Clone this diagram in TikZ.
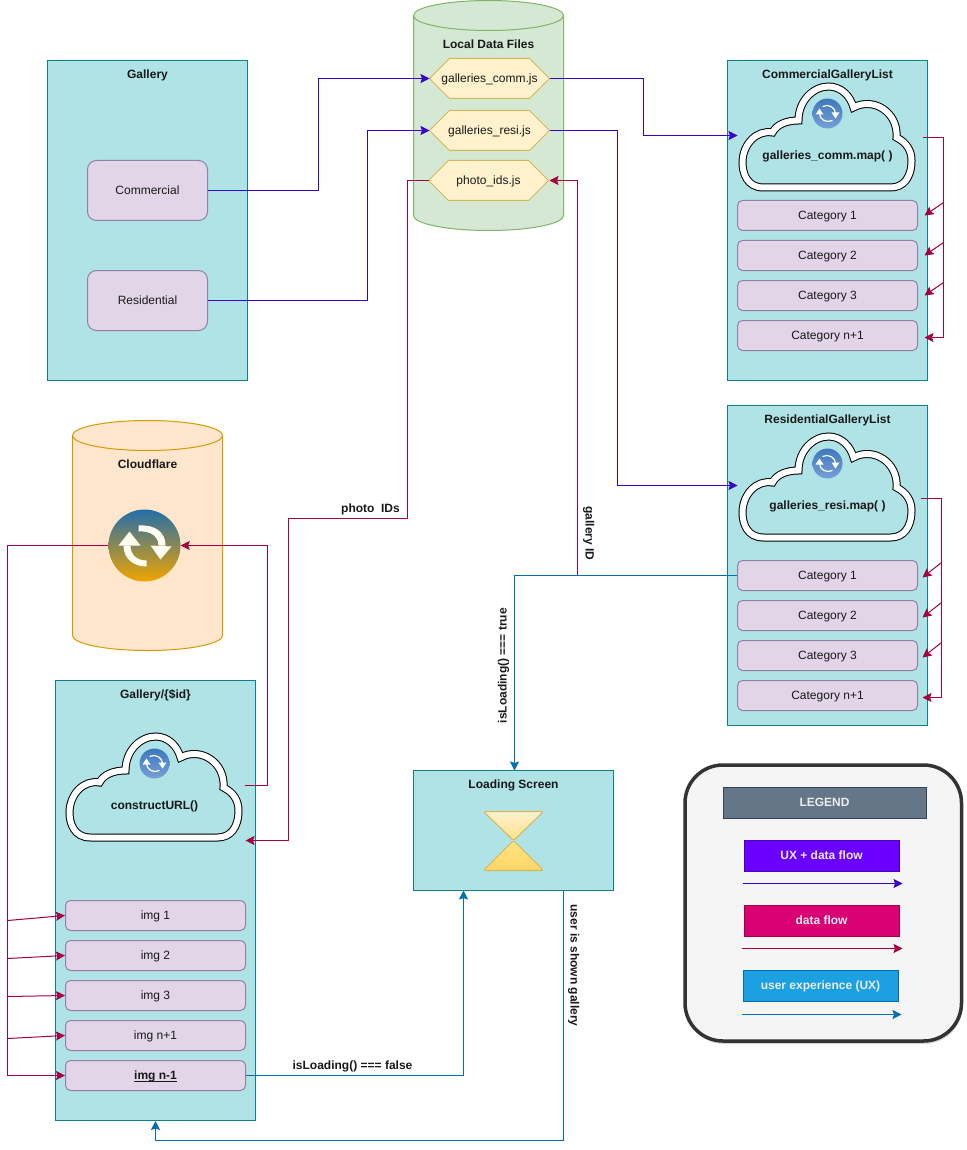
\documentclass[tikz,border=0pt]{standalone}
\usepackage{fontspec}
\setmainfont{Liberation Sans}
\usetikzlibrary{arrows.meta,shadows}

\definecolor{tealf}{RGB}{176,227,230}
\definecolor{teald}{RGB}{14,128,136}
\definecolor{lilf}{RGB}{225,213,231}
\definecolor{lild}{RGB}{146,128,170}
\definecolor{greef}{RGB}{213,232,212}
\definecolor{greed}{RGB}{130,179,102}
\definecolor{yelf}{RGB}{255,242,204}
\definecolor{yeld}{RGB}{214,182,86}
\definecolor{oraf}{RGB}{255,230,204}
\definecolor{orad}{RGB}{215,155,0}
\definecolor{uxdata}{RGB}{55,0,204}
\definecolor{dataf}{RGB}{165,0,64}
\definecolor{uxf}{RGB}{0,110,175}
\definecolor{leggrey}{RGB}{100,118,135}
\definecolor{leggreyd}{RGB}{49,67,84}
\definecolor{legvio}{RGB}{106,0,255}
\definecolor{legpink}{RGB}{216,0,115}
\definecolor{legblue}{RGB}{27,161,226}
\definecolor{glasa}{RGB}{255,224,140}
\definecolor{glasb}{RGB}{255,226,135}
\definecolor{glasc}{RGB}{255,214,102}
\definecolor{syncta}{RGB}{35,110,170}
\definecolor{synctb}{RGB}{240,165,0}
\definecolor{syncsa}{RGB}{60,120,190}
\definecolor{syncsb}{RGB}{120,160,215}

\tikzset{
    txt/.style={font=\fontsize{12}{14}\selectfont,text=black!90,inner sep=0pt,text height=10pt,text depth=2pt},
    bold/.style={txt,font=\fontsize{12}{14}\selectfont\bfseries},
    panel/.style={draw=teald,fill=tealf,line width=1pt,minimum width=200pt,inner sep=0pt},
    itembox/.style={txt,draw=lild,fill=lilf,line width=1pt,rounded corners=5pt,minimum width=180pt,minimum height=30pt},
    btnbox/.style={txt,draw=lild,fill=lilf,line width=1pt,rounded corners=9pt,minimum width=120pt,minimum height=60pt},
    hexfile/.style={draw=yeld,fill=yelf,line width=1pt},
    legbox/.style={font=\fontsize{12}{14}\selectfont\bfseries,text=white!92!black,inner sep=0pt,text height=10pt,text depth=3pt,line width=1pt,minimum height=31pt},
    syncbig/.style={circle,inner sep=0pt,minimum size=72pt,top color=syncta,bottom color=synctb},
    syncsmall/.style={circle,inner sep=0pt,minimum size=30pt,top color=syncsa,bottom color=syncsb},
    uxdataline/.style={draw=uxdata,line width=1pt,-{Stealth[length=9pt,width=9pt,inset=1.5pt]}},
    dataline/.style={draw=dataf,line width=1pt,-{Stealth[length=9pt,width=9pt,inset=1.5pt]}},
    uxline/.style={draw=uxf,line width=1pt,-{Stealth[length=9pt,width=9pt,inset=1.5pt]}},
    gcloud/.pic={
        \draw[black,fill=tealf,line width=1pt,double=white,double distance=6pt]
            (25,105) .. controls (8,105) and (4,90) .. (4,80)
            .. controls (4,62) and (18,47) .. (34,50)
            .. controls (38,42) and (48,38) .. (60,38)
            .. controls (60,18) and (75,4) .. (90,4)
            .. controls (103,4) and (112,14) .. (115,25)
            .. controls (135,14) and (160,30) .. (158,55)
            .. controls (168,60) and (173,68) .. (173,78)
            .. controls (173,95) and (165,105) .. (152,105) -- cycle;
    },
    syncglyph/.pic={
        \fill[white!95!yellow] (-21,0) .. controls (-21,14) and (-10,21) .. (2,21) -- (2,15)
            .. controls (-8,15) and (-14,9) .. (-14,0) -- cycle;
        \fill[white!95!yellow] (-26,0) -- (-15,-14) -- (-4,0) -- cycle;
        \fill[white!95!yellow] (21,0) .. controls (21,-14) and (10,-21) .. (-6,-20) -- (-6,-14)
            .. controls (6,-15) and (14,-9) .. (14,0) -- cycle;
        \fill[white!95!yellow] (6,0) -- (27,1) -- (16,14) -- cycle;
    },
    syncthin/.pic={
        \draw[white,line width=1.2pt] (-8,0) .. controls (-8,6) and (-1,10) .. (5,7);
        \draw[white,line width=1.2pt] (8,0) .. controls (8,-6) and (1,-10) .. (-5,-7);
        \fill[white] (-12,1) -- (-8,-5) -- (-4,1) -- cycle;
        \fill[white] (12,-1) -- (8,5) -- (4,-1) -- cycle;
    },
}

\begin{document}
\begin{tikzpicture}[x=1pt,y=-1pt]
    \path[use as bounding box,fill=white] (-0.5,-0.5) rectangle (965.5,1149.5);
    %
    % cylinders
    \draw[draw=greed,fill=greef,line width=1pt] (413,15) -- (413,215)
        arc[start angle=180,end angle=0,x radius=75,y radius=15] -- (563,15);
    \draw[draw=greed,fill=greef,line width=1pt] (488,15) ellipse[x radius=75,y radius=15];
    \draw[draw=orad,fill=oraf,line width=1pt] (72,435) -- (72,635)
        arc[start angle=180,end angle=0,x radius=75,y radius=15] -- (222,435);
    \draw[draw=orad,fill=oraf,line width=1pt] (147,435) ellipse[x radius=75,y radius=15];
    \node[bold] (localtitle) at (488,44) {Local Data Files};
    \node[bold] (cloudflare) at (147,464) {Cloudflare};
    %
    % panels
    \node[panel,minimum height=320pt] (gallery) at (147,220) {};
    \node[panel,minimum height=320pt] (commlist) at (827,220) {};
    \node[panel,minimum height=320pt] (resilist) at (827,565) {};
    \node[panel,minimum height=440pt] (galleryid) at (155,900) {};
    \node[panel,minimum height=120pt] (loading) at (513,830) {};
    \node[bold] (gallerytitle) at (147,74) {Gallery};
    \node[bold] (commtitle) at (827,74) {CommercialGalleryList};
    \node[bold] (resititle) at (827,419) {ResidentialGalleryList};
    \node[bold] (galleryidtitle) at (155,694) {Gallery/\{\$id\}};
    \node[bold] (loadingtitle) at (513,784) {Loading Screen};
    %
    % gallery buttons
    \node[btnbox] (commercial) at (147,190) {Commercial};
    \node[btnbox] (residential) at (147,300) {Residential};
    %
    % data files
    \draw[hexfile] (429,78) -- (449,58) -- (529,58) -- (549,78) -- (529,98) -- (449,98) -- cycle;
    \draw[hexfile] (429,130) -- (449,110) -- (529,110) -- (549,130) -- (529,150) -- (449,150) -- cycle;
    \draw[hexfile] (428,180) -- (448,160) -- (528,160) -- (548,180) -- (528,200) -- (448,200) -- cycle;
    \node[txt] (commjs) at (489,78) {galleries\_comm.js};
    \node[txt] (resijs) at (489,130) {galleries\_resi.js};
    \node[txt] (photojs) at (488,180) {photo\_ids.js};
    \coordinate (commjsW) at (429,78);
    \coordinate (commjsE) at (549,78);
    \coordinate (resijsW) at (429,130);
    \coordinate (resijsE) at (549,130);
    \coordinate (photojsW) at (428,180);
    \coordinate (photojsE) at (549,180);
    %
    % clouds
    \pic at (738,82) {gcloud};
    \pic at (738,432) {gcloud};
    \pic at (65,732) {gcloud};
    \node[bold] (commmap) at (827,155) {galleries\_comm.map( )};
    \node[bold] (resimap) at (827,505) {galleries\_resi.map( )};
    \node[bold] (constructurl) at (154,805) {constructURL()};
    %
    % sync icons
    \node[syncbig] (syncflare) at (144,545) {};
    \pic at (144,545) {syncglyph};
    \node[syncsmall] (synccomm) at (827,113) {};
    \pic at (827,113) {syncthin};
    \node[syncsmall] (syncresi) at (827,463) {};
    \pic at (827,463) {syncthin};
    \node[syncsmall] (syncid) at (154,763) {};
    \pic at (154,763) {syncthin};
    %
    % list items
    \node[itembox] (comm1) at (827,215) {Category 1};
    \node[itembox] (comm2) at (827,255) {Category 2};
    \node[itembox] (comm3) at (827,295) {Category 3};
    \node[itembox] (comm4) at (827,335) {Category n+1};
    \node[itembox] (resi1) at (827,575) {Category 1};
    \node[itembox] (resi2) at (827,615) {Category 2};
    \node[itembox] (resi3) at (827,655) {Category 3};
    \node[itembox] (resi4) at (827,695) {Category n+1};
    \node[itembox] (img1) at (155,915) {img 1};
    \node[itembox] (img2) at (155,955) {img 2};
    \node[itembox] (img3) at (155,995) {img 3};
    \node[itembox] (img4) at (155,1035) {img n+1};
    \node[itembox] (img5) at (155,1075) {\textbf{\underline{\smash{img n-1}}}};
    %
    % hourglass
    \shade[draw=yeld,line width=1pt,rounded corners=2pt,top color=yelf,bottom color=glasa]
        (483,811) -- (543,811) -- (513,840) -- cycle;
    \shade[draw=yeld,line width=1pt,rounded corners=2pt,top color=glasb,bottom color=glasc]
        (513,840) -- (543,870) -- (483,870) -- cycle;
    %
    % ux + data flow
    \coordinate (commcloudW) at (737,135);
    \coordinate (resicloudW) at (737,485);
    \draw[uxdataline] (commercial.east) -- (318,190) -- (318,78) -- (commjsW);
    \draw[uxdataline] (residential.east) -- (367,300) -- (367,130) -- (resijsW);
    \draw[uxdataline] (commjsE) -- (643,78) -- (643,135) -- (commcloudW);
    \draw[uxdataline] (resijsE) -- (617,130) -- (617,485) -- (resicloudW);
    %
    % data flow, commercial list
    \coordinate (commout) at (922,137);
    \coordinate (commT1) at (924,215);
    \coordinate (commT2) at (924,255);
    \coordinate (commT3) at (924,295);
    \coordinate (commT4) at (924,337);
    \draw[dataline] (commout) -- (943,137) -- (943,337) -- (commT4);
    \draw[dataline] (943,202) -- (commT1);
    \draw[dataline] (943,242) -- (commT2);
    \draw[dataline] (943,282) -- (commT3);
    %
    % data flow, residential list
    \coordinate (resiout) at (920,498);
    \coordinate (resiT1) at (922,577);
    \coordinate (resiT2) at (922,617);
    \coordinate (resiT3) at (922,657);
    \coordinate (resiT4) at (922,697);
    \draw[dataline] (resiout) -- (941,498) -- (941,697) -- (resiT4);
    \draw[dataline] (941,562) -- (resiT1);
    \draw[dataline] (941,602) -- (resiT2);
    \draw[dataline] (941,642) -- (resiT3);
    %
    % data flow, photos
    \coordinate (idcloudE) at (245,840);
    \coordinate (idout) at (244,785);
    \draw[dataline] (photojsW) -- (407,180) -- (407,518) -- (288,518) -- (288,840) -- (idcloudE);
    \draw[dataline] (idout) -- (267,785) -- (267,545) -- (syncflare.east);
    \draw[dataline] (syncflare.west) -- (7,545) -- (7,1075) -- (img5.west);
    \draw[dataline] (7,920) -- (img1.west);
    \draw[dataline] (7,958) -- (img2.west);
    \draw[dataline] (7,996) -- (img3.west);
    \draw[dataline] (7,1038) -- (img4.west);
    \draw[dataline] (577,575) -- (577,180) -- (photojsE);
    %
    % user experience
    \draw[uxline] (resi1.west) -- (514,575) -- (514,770);
    \draw[uxline] (img5.east) -- (463,1075) -- (463,890);
    \draw[uxline] (563,890) -- (563,1140) -- (155,1140) -- (galleryid.south);
    %
    % flow labels
    \node[bold] (photolabel) at (370,508) {photo\ \ IDs};
    \node[bold,rotate=-90] (idlabel) at (589,533) {gallery ID};
    \node[bold,rotate=90] (truelabel) at (502,665) {isLoading() === true};
    \node[bold] (falselabel) at (352,1065) {isLoading() === false};
    \node[bold,rotate=-90] (shownlabel) at (574,965) {user is shown gallery};
    %
    % legend
    \draw[draw=black!80,fill=black!4,line width=3.5pt,rounded corners=38pt,
        drop shadow={shadow xshift=1pt,shadow yshift=-3pt,opacity=0.3}] (684.5,764.5) rectangle (961,1040.5);
    \node[legbox,draw=leggreyd,fill=leggrey,minimum width=203pt] (legtitle) at (824,802.5) {LEGEND};
    \node[legbox,draw=legvio!70!black,fill=legvio,minimum width=155pt] (legboth) at (821,855.5) {UX + data flow};
    \node[legbox,draw=dataf,fill=legpink,minimum width=155pt] (legdata) at (821,920.5) {data flow};
    \node[legbox,draw=uxf,fill=legblue,minimum width=155pt] (legux) at (820,985.5) {user experience (UX)};
    \coordinate (A1) at (742,883);
    \coordinate (A2) at (902,883);
    \coordinate (B1) at (741,948);
    \coordinate (B2) at (902,948);
    \coordinate (C1) at (741,1014);
    \coordinate (C2) at (901,1014);
    \draw[uxdataline] (A1) -- (A2);
    \draw[dataline] (B1) -- (B2);
    \draw[uxline] (C1) -- (C2);
    %
\end{tikzpicture}
\end{document}
